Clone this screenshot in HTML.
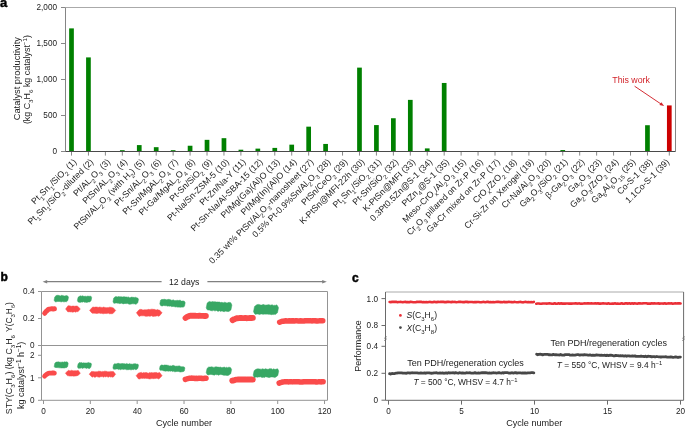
<!DOCTYPE html>
<html><head><meta charset="utf-8"><style>
html,body{margin:0;padding:0;background:#fff;width:685px;height:428px;overflow:hidden}
svg{display:block;will-change:transform}
text{font-family:"Liberation Sans", sans-serif}
</style></head><body>
<svg width="685" height="428" viewBox="0 0 685 428" font-family='"Liberation Sans", sans-serif'>
<rect width="685" height="428" fill="#fff"/>
<text x="0" y="7.2" font-size="13" font-weight="bold" fill="#000" stroke="#000" stroke-width="0.45">a</text>
<path d="M61 151.50H65.5" stroke="#888" stroke-width="1"/>
<text x="57" y="154.40" font-size="8.2" text-anchor="end" fill="#222222">0</text>
<path d="M61 115.50H65.5" stroke="#888" stroke-width="1"/>
<text x="57" y="118.40" font-size="8.2" text-anchor="end" fill="#222222">500</text>
<path d="M61 79.50H65.5" stroke="#888" stroke-width="1"/>
<text x="57" y="82.40" font-size="8.2" text-anchor="end" fill="#222222">1,000</text>
<path d="M61 43.50H65.5" stroke="#888" stroke-width="1"/>
<text x="57" y="46.40" font-size="8.2" text-anchor="end" fill="#222222">1,500</text>
<path d="M61 7.50H65.5" stroke="#888" stroke-width="1"/>
<text x="57" y="10.40" font-size="8.2" text-anchor="end" fill="#222222">2,000</text>
<text transform="translate(20.0 78.7) rotate(-90)" font-size="9.3" text-anchor="middle" fill="#222222">Catalyst productivity</text>
<text transform="translate(29.6 79.6) rotate(-90)" font-size="8.9" text-anchor="middle" fill="#222222">(kg C<tspan baseline-shift="-2.85" font-size="6.23">3</tspan>H<tspan baseline-shift="-2.85" font-size="6.23">6</tspan> kg catalyst<tspan baseline-shift="3.38" font-size="6.23">−1</tspan>)</text>
<rect x="69.15" y="28.38" width="4.7" height="123.12" fill="#008000"/>
<path d="M71.50 151.5V155.6" stroke="#888" stroke-width="1"/>
<text transform="translate(77.00 162.5) rotate(-45)" font-size="8.8" text-anchor="end" fill="#222222">Pt<tspan baseline-shift="-2.82" font-size="6.16">1</tspan>Sn<tspan baseline-shift="-2.82" font-size="6.16">1</tspan>/SiO<tspan baseline-shift="-2.82" font-size="6.16">2</tspan> (1)</text>
<rect x="86.09" y="57.40" width="4.7" height="94.10" fill="#008000"/>
<path d="M88.44 151.5V155.6" stroke="#888" stroke-width="1"/>
<text transform="translate(93.94 162.5) rotate(-45)" font-size="8.8" text-anchor="end" fill="#222222">Pt<tspan baseline-shift="-2.82" font-size="6.16">1</tspan>Sn<tspan baseline-shift="-2.82" font-size="6.16">1</tspan>/SiO<tspan baseline-shift="-2.82" font-size="6.16">2</tspan>-diluted (2)</text>
<rect x="103.03" y="151.14" width="4.7" height="0.36" fill="#008000"/>
<path d="M105.38 151.5V155.6" stroke="#888" stroke-width="1"/>
<text transform="translate(110.88 162.5) rotate(-45)" font-size="8.8" text-anchor="end" fill="#222222">Pt/AL<tspan baseline-shift="-2.82" font-size="6.16">2</tspan>O<tspan baseline-shift="-2.82" font-size="6.16">3</tspan> (3)</text>
<rect x="119.97" y="150.20" width="4.7" height="1.30" fill="#008000"/>
<path d="M122.32 151.5V155.6" stroke="#888" stroke-width="1"/>
<text transform="translate(127.82 162.5) rotate(-45)" font-size="8.8" text-anchor="end" fill="#222222">PtSn/AL<tspan baseline-shift="-2.82" font-size="6.16">2</tspan>O<tspan baseline-shift="-2.82" font-size="6.16">3</tspan> (4)</text>
<rect x="136.91" y="145.09" width="4.7" height="6.41" fill="#008000"/>
<path d="M139.26 151.5V155.6" stroke="#888" stroke-width="1"/>
<text transform="translate(144.76 162.5) rotate(-45)" font-size="8.8" text-anchor="end" fill="#222222">PtSn/AL<tspan baseline-shift="-2.82" font-size="6.16">2</tspan>O<tspan baseline-shift="-2.82" font-size="6.16">3</tspan> (with H<tspan baseline-shift="-2.82" font-size="6.16">2</tspan>) (5)</text>
<rect x="153.85" y="147.18" width="4.7" height="4.32" fill="#008000"/>
<path d="M156.20 151.5V155.6" stroke="#888" stroke-width="1"/>
<text transform="translate(161.70 162.5) rotate(-45)" font-size="8.8" text-anchor="end" fill="#222222">Pt-Sn/AL<tspan baseline-shift="-2.82" font-size="6.16">2</tspan>O<tspan baseline-shift="-2.82" font-size="6.16">3</tspan> (6)</text>
<rect x="170.79" y="150.20" width="4.7" height="1.30" fill="#008000"/>
<path d="M173.14 151.5V155.6" stroke="#888" stroke-width="1"/>
<text transform="translate(178.64 162.5) rotate(-45)" font-size="8.8" text-anchor="end" fill="#222222">Pt-Sn/MgAL<tspan baseline-shift="-2.82" font-size="6.16">2</tspan>O<tspan baseline-shift="-2.82" font-size="6.16">4</tspan> (7)</text>
<rect x="187.73" y="145.74" width="4.7" height="5.76" fill="#008000"/>
<path d="M190.08 151.5V155.6" stroke="#888" stroke-width="1"/>
<text transform="translate(195.58 162.5) rotate(-45)" font-size="8.8" text-anchor="end" fill="#222222">Pt-Ga/MgAL<tspan baseline-shift="-2.82" font-size="6.16">2</tspan>O<tspan baseline-shift="-2.82" font-size="6.16">4</tspan> (8)</text>
<rect x="204.67" y="139.84" width="4.7" height="11.66" fill="#008000"/>
<path d="M207.02 151.5V155.6" stroke="#888" stroke-width="1"/>
<text transform="translate(212.52 162.5) rotate(-45)" font-size="8.8" text-anchor="end" fill="#222222">Pt-Sn/SiO<tspan baseline-shift="-2.82" font-size="6.16">2</tspan> (9)</text>
<rect x="221.61" y="138.18" width="4.7" height="13.32" fill="#008000"/>
<path d="M223.96 151.5V155.6" stroke="#888" stroke-width="1"/>
<text transform="translate(229.46 162.5) rotate(-45)" font-size="8.8" text-anchor="end" fill="#222222">Pt-Na/Sn-ZSM-5 (10)</text>
<rect x="238.55" y="149.70" width="4.7" height="1.80" fill="#008000"/>
<path d="M240.90 151.5V155.6" stroke="#888" stroke-width="1"/>
<text transform="translate(246.40 162.5) rotate(-45)" font-size="8.8" text-anchor="end" fill="#222222">Pt-Zn/Na-Y (11)</text>
<rect x="255.49" y="148.62" width="4.7" height="2.88" fill="#008000"/>
<path d="M257.84 151.5V155.6" stroke="#888" stroke-width="1"/>
<text transform="translate(263.34 162.5) rotate(-45)" font-size="8.8" text-anchor="end" fill="#222222">Pt-Sn-Na/Al-SBA-15 (12)</text>
<rect x="272.43" y="147.90" width="4.7" height="3.60" fill="#008000"/>
<path d="M274.78 151.5V155.6" stroke="#888" stroke-width="1"/>
<text transform="translate(280.28 162.5) rotate(-45)" font-size="8.8" text-anchor="end" fill="#222222">Pt/Mg(Ga)(Al)O (13)</text>
<rect x="289.37" y="144.66" width="4.7" height="6.84" fill="#008000"/>
<path d="M291.72 151.5V155.6" stroke="#888" stroke-width="1"/>
<text transform="translate(297.22 162.5) rotate(-45)" font-size="8.8" text-anchor="end" fill="#222222">Pt/Mg(In)(Al)O (14)</text>
<rect x="306.31" y="126.66" width="4.7" height="24.84" fill="#008000"/>
<path d="M308.66 151.5V155.6" stroke="#888" stroke-width="1"/>
<text transform="translate(314.16 162.5) rotate(-45)" font-size="8.8" text-anchor="end" fill="#222222">0.35 wt% PtSn/Al<tspan baseline-shift="-2.82" font-size="6.16">2</tspan>O<tspan baseline-shift="-2.82" font-size="6.16">3</tspan>-nanosheet (27)</text>
<rect x="323.25" y="143.94" width="4.7" height="7.56" fill="#008000"/>
<path d="M325.60 151.5V155.6" stroke="#888" stroke-width="1"/>
<text transform="translate(331.10 162.5) rotate(-45)" font-size="8.8" text-anchor="end" fill="#222222">0.5% Pt-0.9%Sn/Al<tspan baseline-shift="-2.82" font-size="6.16">2</tspan>O<tspan baseline-shift="-2.82" font-size="6.16">3</tspan> (28)</text>
<rect x="340.19" y="151.00" width="4.7" height="0.50" fill="#008000"/>
<path d="M342.54 151.5V155.6" stroke="#888" stroke-width="1"/>
<text transform="translate(348.04 162.5) rotate(-45)" font-size="8.8" text-anchor="end" fill="#222222">PtSn/CeO<tspan baseline-shift="-2.82" font-size="6.16">2</tspan> (29)</text>
<rect x="357.13" y="67.62" width="4.7" height="83.88" fill="#008000"/>
<path d="M359.48 151.5V155.6" stroke="#888" stroke-width="1"/>
<text transform="translate(364.98 162.5) rotate(-45)" font-size="8.8" text-anchor="end" fill="#222222">K-PtSn@MFI-22h (30)</text>
<rect x="374.07" y="125.08" width="4.7" height="26.42" fill="#008000"/>
<path d="M376.42 151.5V155.6" stroke="#888" stroke-width="1"/>
<text transform="translate(381.92 162.5) rotate(-45)" font-size="8.8" text-anchor="end" fill="#222222">Pt<tspan baseline-shift="-2.82" font-size="6.16">1</tspan>Sn<tspan baseline-shift="-2.82" font-size="6.16">1</tspan>/SiO<tspan baseline-shift="-2.82" font-size="6.16">2</tspan> (31)</text>
<rect x="391.01" y="118.24" width="4.7" height="33.26" fill="#008000"/>
<path d="M393.36 151.5V155.6" stroke="#888" stroke-width="1"/>
<text transform="translate(398.86 162.5) rotate(-45)" font-size="8.8" text-anchor="end" fill="#222222">Pt-Sn/SiO<tspan baseline-shift="-2.82" font-size="6.16">2</tspan> (32)</text>
<rect x="407.95" y="99.88" width="4.7" height="51.62" fill="#008000"/>
<path d="M410.30 151.5V155.6" stroke="#888" stroke-width="1"/>
<text transform="translate(415.80 162.5) rotate(-45)" font-size="8.8" text-anchor="end" fill="#222222">K-PtSn@MFI (33)</text>
<rect x="424.89" y="148.40" width="4.7" height="3.10" fill="#008000"/>
<path d="M427.24 151.5V155.6" stroke="#888" stroke-width="1"/>
<text transform="translate(432.74 162.5) rotate(-45)" font-size="8.8" text-anchor="end" fill="#222222">0.3Pt0.5Zn@S-1 (34)</text>
<rect x="441.83" y="82.96" width="4.7" height="68.54" fill="#008000"/>
<path d="M444.18 151.5V155.6" stroke="#888" stroke-width="1"/>
<text transform="translate(449.68 162.5) rotate(-45)" font-size="8.8" text-anchor="end" fill="#222222">PtZn<tspan baseline-shift="-2.82" font-size="6.16">4</tspan>@S-1 (35)</text>
<path d="M461.12 151.5V155.6" stroke="#888" stroke-width="1"/>
<text transform="translate(466.62 162.5) rotate(-45)" font-size="8.8" text-anchor="end" fill="#222222">Meso-CrO<tspan baseline-shift="-2.82" font-size="6.16">x</tspan>/Al<tspan baseline-shift="-2.82" font-size="6.16">2</tspan>O<tspan baseline-shift="-2.82" font-size="6.16">3</tspan> (15)</text>
<path d="M478.06 151.5V155.6" stroke="#888" stroke-width="1"/>
<text transform="translate(483.56 162.5) rotate(-45)" font-size="8.8" text-anchor="end" fill="#222222">Cr<tspan baseline-shift="-2.82" font-size="6.16">2</tspan>O<tspan baseline-shift="-2.82" font-size="6.16">3</tspan> pillared on Zr-P (16)</text>
<path d="M495.00 151.5V155.6" stroke="#888" stroke-width="1"/>
<text transform="translate(500.50 162.5) rotate(-45)" font-size="8.8" text-anchor="end" fill="#222222">Ga-Cr mixed on Zr-P (17)</text>
<path d="M511.94 151.5V155.6" stroke="#888" stroke-width="1"/>
<text transform="translate(517.44 162.5) rotate(-45)" font-size="8.8" text-anchor="end" fill="#222222">CrO<tspan baseline-shift="-2.82" font-size="6.16">x</tspan>/ZrO<tspan baseline-shift="-2.82" font-size="6.16">2</tspan> (18)</text>
<path d="M528.88 151.5V155.6" stroke="#888" stroke-width="1"/>
<text transform="translate(534.38 162.5) rotate(-45)" font-size="8.8" text-anchor="end" fill="#222222">Cr-Si-Zr on Xerogel (19)</text>
<path d="M545.82 151.5V155.6" stroke="#888" stroke-width="1"/>
<text transform="translate(551.32 162.5) rotate(-45)" font-size="8.8" text-anchor="end" fill="#222222">Cr-Na/Al<tspan baseline-shift="-2.82" font-size="6.16">2</tspan>O<tspan baseline-shift="-2.82" font-size="6.16">3</tspan> (20)</text>
<rect x="560.41" y="150.06" width="4.7" height="1.44" fill="#008000"/>
<path d="M562.76 151.5V155.6" stroke="#888" stroke-width="1"/>
<text transform="translate(568.26 162.5) rotate(-45)" font-size="8.8" text-anchor="end" fill="#222222">Ga<tspan baseline-shift="-2.82" font-size="6.16">2</tspan>O<tspan baseline-shift="-2.82" font-size="6.16">3</tspan>/SiO<tspan baseline-shift="-2.82" font-size="6.16">2</tspan> (21)</text>
<path d="M579.70 151.5V155.6" stroke="#888" stroke-width="1"/>
<text transform="translate(585.20 162.5) rotate(-45)" font-size="8.8" text-anchor="end" fill="#222222">β-Ga<tspan baseline-shift="-2.82" font-size="6.16">2</tspan>O<tspan baseline-shift="-2.82" font-size="6.16">3</tspan> (22)</text>
<path d="M596.64 151.5V155.6" stroke="#888" stroke-width="1"/>
<text transform="translate(602.14 162.5) rotate(-45)" font-size="8.8" text-anchor="end" fill="#222222">Ga<tspan baseline-shift="-2.82" font-size="6.16">2</tspan>O<tspan baseline-shift="-2.82" font-size="6.16">3</tspan> (23)</text>
<path d="M613.58 151.5V155.6" stroke="#888" stroke-width="1"/>
<text transform="translate(619.08 162.5) rotate(-45)" font-size="8.8" text-anchor="end" fill="#222222">Ga<tspan baseline-shift="-2.82" font-size="6.16">2</tspan>O<tspan baseline-shift="-2.82" font-size="6.16">3</tspan>/ZrO<tspan baseline-shift="-2.82" font-size="6.16">2</tspan> (24)</text>
<path d="M630.52 151.5V155.6" stroke="#888" stroke-width="1"/>
<text transform="translate(636.02 162.5) rotate(-45)" font-size="8.8" text-anchor="end" fill="#222222">Ga<tspan baseline-shift="-2.82" font-size="6.16">6</tspan>Al<tspan baseline-shift="-2.82" font-size="6.16">6</tspan>O<tspan baseline-shift="-2.82" font-size="6.16">15</tspan> (25)</text>
<rect x="645.11" y="125.22" width="4.7" height="26.28" fill="#008000"/>
<path d="M647.46 151.5V155.6" stroke="#888" stroke-width="1"/>
<text transform="translate(652.96 162.5) rotate(-45)" font-size="8.8" text-anchor="end" fill="#222222">Co-S-1 (38)</text>
<rect x="666.95" y="105.42" width="4.7" height="46.08" fill="#cc0000"/>
<path d="M669.30 151.5V155.6" stroke="#888" stroke-width="1"/>
<text transform="translate(669.90 162.5) rotate(-45)" font-size="8.8" text-anchor="end" fill="#222222">1.1Co-S-1 (39)</text>
<path d="M65.5 7.5H675.5" stroke="#aaa" stroke-width="1"/>
<path d="M65.5 7.5V151.5M675.5 7.5V151.5" stroke="#858585" stroke-width="1"/>
<path d="M65.5 151.5H675.5" stroke="#4a4a4a" stroke-width="1"/>
<text x="612.3" y="82.8" font-size="8.8" fill="#d2232a">This work</text>
<path d="M634.6 86.2L661.0 104.0" stroke="#d2232a" stroke-width="0.95"/>
<path d="M664.1 106.1L659.4 105.0L661.3 102.2Z" fill="#d2232a"/>
<text x="0.5" y="280.6" font-size="12" font-weight="bold" fill="#000" stroke="#000" stroke-width="0.45">b</text>
<path d="M41.5 291.5H327.5V400.3H41.5Z" fill="none" stroke="#949494" stroke-width="1"/>
<path d="M41.5 345.5H327.5" stroke="#949494" stroke-width="1"/>
<path d="M46 281.6H161.6M207.4 281.6H323" stroke="#808080" stroke-width="1.15"/>
<path d="M42.6 281.7L47.2 279.9V283.5Z" fill="#808080"/>
<path d="M326.8 281.7L322.2 279.9V283.5Z" fill="#808080"/>
<text x="184.2" y="284.6" font-size="8.7" text-anchor="middle" fill="#222222">12 days</text>
<path d="M38 291.50H41.5" stroke="#949494" stroke-width="1"/>
<text x="34.5" y="294.40" font-size="8.2" text-anchor="end" fill="#222222">0.4</text>
<path d="M38 318.50H41.5" stroke="#949494" stroke-width="1"/>
<text x="34.5" y="321.40" font-size="8.2" text-anchor="end" fill="#222222">0.2</text>
<path d="M38 345.50H41.5" stroke="#949494" stroke-width="1"/>
<text x="34.5" y="348.40" font-size="8.2" text-anchor="end" fill="#222222">0</text>
<path d="M38 400.30H41.5" stroke="#949494" stroke-width="1"/>
<text x="34.5" y="403.20" font-size="8.2" text-anchor="end" fill="#222222">0</text>
<path d="M38 377.80H41.5" stroke="#949494" stroke-width="1"/>
<text x="34.5" y="380.70" font-size="8.2" text-anchor="end" fill="#222222">1</text>
<path d="M38 355.30H41.5" stroke="#949494" stroke-width="1"/>
<text x="34.5" y="358.20" font-size="8.2" text-anchor="end" fill="#222222">2</text>
<path d="M43.50 400.3V404" stroke="#949494" stroke-width="1"/>
<text x="43.50" y="413.6" font-size="8.2" text-anchor="middle" fill="#222222">0</text>
<path d="M90.34 400.3V404" stroke="#949494" stroke-width="1"/>
<text x="90.34" y="413.6" font-size="8.2" text-anchor="middle" fill="#222222">20</text>
<path d="M137.18 400.3V404" stroke="#949494" stroke-width="1"/>
<text x="137.18" y="413.6" font-size="8.2" text-anchor="middle" fill="#222222">40</text>
<path d="M184.02 400.3V404" stroke="#949494" stroke-width="1"/>
<text x="184.02" y="413.6" font-size="8.2" text-anchor="middle" fill="#222222">60</text>
<path d="M230.86 400.3V404" stroke="#949494" stroke-width="1"/>
<text x="230.86" y="413.6" font-size="8.2" text-anchor="middle" fill="#222222">80</text>
<path d="M277.70 400.3V404" stroke="#949494" stroke-width="1"/>
<text x="277.70" y="413.6" font-size="8.2" text-anchor="middle" fill="#222222">100</text>
<path d="M324.54 400.3V404" stroke="#949494" stroke-width="1"/>
<text x="324.54" y="413.6" font-size="8.2" text-anchor="middle" fill="#222222">120</text>
<text x="184" y="426.4" font-size="9.1" text-anchor="middle" fill="#222222">Cycle number</text>
<text transform="translate(12.3 317) rotate(-90)" font-size="8.4" text-anchor="middle" fill="#222222">Y(C<tspan baseline-shift="-2.69" font-size="5.88">3</tspan>H<tspan baseline-shift="-2.69" font-size="5.88">6</tspan>)</text>
<text transform="translate(12.2 374.6) rotate(-90)" font-size="8.8" text-anchor="middle" fill="#222222">STY(C<tspan baseline-shift="-2.82" font-size="6.16">3</tspan>H<tspan baseline-shift="-2.82" font-size="6.16">6</tspan>) (kg C<tspan baseline-shift="-2.82" font-size="6.16">3</tspan>H<tspan baseline-shift="-2.82" font-size="6.16">6</tspan></text>
<text transform="translate(23.6 375.4) rotate(-90)" font-size="9.0" text-anchor="middle" fill="#222222">kg catalyst<tspan baseline-shift="3.42" font-size="6.30">−1</tspan> h<tspan baseline-shift="3.42" font-size="6.30">−1</tspan>)</text>
<polyline points="44.68,313.25 45.90,311.62 47.12,310.54 48.33,309.49 49.55,309.11 50.77,308.90 51.98,308.79 53.20,308.91 54.42,308.76" fill="none" stroke="#fa4b4b" stroke-width="4.968000000000001" stroke-linecap="round" stroke-linejoin="round"/>
<path d="M56.14 295.60L57.20 295.31L58.26 295.32L59.31 295.59L60.37 295.91L61.43 295.35L62.49 295.43L63.55 295.75L64.61 296.01L65.66 295.71L66.72 295.57L67.78 296.03L68.50 297.20L67.84 300.50L66.46 301.79L65.40 301.65L64.34 301.86L63.29 301.82L62.23 301.49L61.17 302.00L60.11 301.60L59.05 301.44L57.99 301.47L56.94 301.58L55.88 302.04L54.82 301.39L54.10 300.20L54.76 296.90Z" fill="#37a764" stroke="#37a764" stroke-width="0.5" stroke-linejoin="round"/>
<path d="M65.60 309.00L67.95 305.80L69.06 305.80L70.17 305.91L71.28 306.29L72.39 306.09L73.51 306.00L74.62 306.22L75.73 306.11L76.84 305.99L77.95 306.39L80.30 309.00L77.95 311.78L76.84 311.54L75.73 312.23L74.62 311.68L73.51 312.03L72.39 312.15L71.28 311.87L70.17 311.91L69.06 311.65L67.95 312.01Z" fill="#fa4b4b" stroke="#fa4b4b" stroke-width="0.5" stroke-linejoin="round"/>
<path d="M79.37 296.36L80.43 295.87L81.49 296.14L82.54 295.78L83.60 296.28L84.66 296.36L85.72 296.21L86.77 296.45L87.83 296.00L88.89 296.31L89.95 296.23L91.00 296.21L91.70 297.65L91.06 300.84L89.73 301.96L88.67 301.88L87.61 302.31L86.56 302.44L85.50 302.17L84.44 302.21L83.38 301.70L82.33 302.18L81.27 302.03L80.21 302.41L79.15 302.32L78.10 302.01L77.40 300.55L78.04 297.36Z" fill="#37a764" stroke="#37a764" stroke-width="0.5" stroke-linejoin="round"/>
<path d="M89.60 310.40L92.12 307.48L93.12 306.97L94.13 307.32L95.13 307.08L96.13 307.04L97.13 307.00L98.14 307.56L99.14 307.05L100.14 307.15L101.15 307.26L102.15 307.65L103.15 307.01L104.15 307.31L105.16 307.39L106.16 307.66L107.16 307.61L108.17 307.64L109.17 307.17L110.17 307.28L111.17 307.24L112.18 307.66L113.18 307.72L115.70 310.40L113.18 313.36L112.18 313.69L111.17 313.75L110.17 313.67L109.17 313.77L108.17 313.09L107.16 313.59L106.16 313.54L105.16 313.46L104.15 313.60L103.15 313.81L102.15 313.50L101.15 313.35L100.14 313.39L99.14 313.05L98.14 313.26L97.13 313.52L96.13 313.44L95.13 313.24L94.13 313.24L93.12 313.19L92.12 313.17Z" fill="#fa4b4b" stroke="#fa4b4b" stroke-width="0.5" stroke-linejoin="round"/>
<path d="M115.18 296.75L116.20 296.55L117.23 297.01L118.25 296.59L119.28 296.63L120.30 296.77L121.33 296.77L122.35 296.95L123.38 296.76L124.40 296.75L125.43 296.91L126.45 296.91L127.48 297.15L128.50 296.92L129.53 297.63L130.56 297.46L131.58 297.12L132.61 297.24L133.63 297.36L134.66 297.41L135.68 297.25L136.71 297.87L137.73 298.02L138.50 299.30L137.80 302.82L136.32 304.10L135.30 304.25L134.27 303.73L133.25 303.86L132.22 303.74L131.20 304.05L130.17 304.15L129.15 304.20L128.12 303.81L127.10 303.37L126.07 303.75L125.05 303.39L124.02 303.66L123.00 303.96L121.97 303.19L120.94 303.26L119.92 303.76L118.89 303.27L117.87 303.30L116.84 303.07L115.82 303.02L114.79 303.30L113.77 303.25L113.00 301.60L113.70 298.08Z" fill="#37a764" stroke="#37a764" stroke-width="0.5" stroke-linejoin="round"/>
<path d="M136.40 312.80L139.09 309.77L140.10 309.41L141.12 309.33L142.14 309.80L143.15 309.94L144.17 309.83L145.19 309.79L146.20 309.80L147.22 309.74L148.23 309.33L149.25 309.56L150.27 309.43L151.28 309.17L152.30 309.17L153.31 309.37L154.33 309.36L155.35 309.70L156.36 309.92L157.38 309.51L158.40 309.90L159.41 309.94L162.10 312.80L159.41 315.92L158.40 316.28L157.38 315.79L156.36 316.03L155.35 316.25L154.33 316.28L153.31 316.38L152.30 316.18L151.28 315.72L150.27 316.29L149.25 316.17L148.23 316.03L147.22 316.32L146.20 316.37L145.19 316.15L144.17 315.81L143.15 315.81L142.14 315.83L141.12 315.83L140.10 315.94L139.09 316.41Z" fill="#fa4b4b" stroke="#fa4b4b" stroke-width="0.5" stroke-linejoin="round"/>
<path d="M161.98 299.37L163.00 299.59L164.02 299.22L165.04 299.30L166.06 299.82L167.08 299.73L168.10 299.37L169.12 299.42L170.14 299.53L171.16 300.21L172.18 300.22L173.20 299.78L174.22 300.40L175.25 300.61L176.27 300.44L177.29 300.28L178.31 300.52L179.33 300.27L180.35 300.26L181.37 301.11L182.39 300.94L183.41 300.92L184.43 301.33L185.20 302.70L184.50 306.22L183.02 307.32L182.00 306.90L180.98 307.22L179.96 307.14L178.94 307.03L177.92 307.28L176.90 306.80L175.88 307.10L174.86 306.76L173.84 306.58L172.82 306.41L171.80 306.77L170.78 306.06L169.75 306.21L168.73 306.00L167.71 306.17L166.69 305.81L165.67 305.77L164.65 305.65L163.63 305.54L162.61 305.94L161.59 305.90L160.57 305.46L159.80 303.80L160.50 300.28Z" fill="#37a764" stroke="#37a764" stroke-width="0.5" stroke-linejoin="round"/>
<polyline points="185.54,318.00 186.81,317.03 188.08,316.57 189.35,315.91 190.62,315.75 191.89,315.79 193.16,315.77 194.43,315.72 195.70,315.81 196.97,315.84 198.24,315.94 199.51,315.76 200.78,315.92 202.05,315.85 203.32,315.88 204.59,316.06 205.86,316.00" fill="none" stroke="#fa4b4b" stroke-width="5.888000000000001" stroke-linecap="round" stroke-linejoin="round"/>
<path d="M209.19 301.49L210.22 301.71L211.25 301.89L212.29 301.58L213.32 301.78L214.35 301.76L215.38 301.83L216.41 302.04L217.44 301.91L218.47 302.04L219.50 302.06L220.53 302.50L221.56 302.37L222.60 302.57L223.63 302.69L224.66 302.21L225.69 302.51L226.72 302.88L227.75 302.86L228.78 302.37L229.81 302.42L230.84 302.74L231.90 305.10L230.93 309.94L228.91 311.44L227.88 311.51L226.85 311.38L225.81 311.10L224.78 311.57L223.75 311.63L222.72 311.17L221.69 311.03L220.66 311.41L219.63 310.76L218.60 311.30L217.57 311.16L216.54 310.51L215.50 310.86L214.47 310.84L213.44 310.32L212.41 310.85L211.38 310.70L210.35 310.54L209.32 310.00L208.29 310.07L207.26 309.87L206.20 307.90L207.17 303.06Z" fill="#37a764" stroke="#37a764" stroke-width="0.5" stroke-linejoin="round"/>
<polyline points="232.54,320.11 233.81,319.38 235.08,318.91 236.35,318.29 237.62,318.21 238.89,318.12 240.16,317.98 241.43,318.06 242.70,318.14 243.97,318.09 245.24,317.94 246.51,318.21 247.78,318.14 249.05,318.18 250.32,317.91 251.59,317.94 252.86,317.86" fill="none" stroke="#fa4b4b" stroke-width="5.888000000000001" stroke-linecap="round" stroke-linejoin="round"/>
<path d="M256.70 304.86L257.73 304.48L258.76 304.40L259.80 304.66L260.83 305.08L261.87 305.04L262.90 304.62L263.93 304.56L264.97 305.21L266.00 304.96L267.03 305.09L268.07 304.63L269.10 304.63L270.14 305.17L271.17 304.98L272.20 304.73L273.24 305.45L274.27 305.24L275.30 305.40L276.34 304.86L277.37 305.50L278.50 307.65L277.47 312.82L275.30 314.54L274.27 314.37L273.24 314.60L272.20 314.41L271.17 314.75L270.13 314.36L269.10 314.34L268.07 314.22L267.03 314.07L266.00 314.13L264.97 314.06L263.93 314.13L262.90 314.33L261.86 313.99L260.83 314.07L259.80 314.57L258.76 314.24L257.73 314.04L256.70 314.10L255.66 314.40L254.63 313.73L253.50 311.65L254.53 306.48Z" fill="#37a764" stroke="#37a764" stroke-width="0.5" stroke-linejoin="round"/>
<polyline points="279.66,322.26 280.89,321.77 282.12,321.27 283.35,321.18 284.58,320.95 285.81,320.79 287.05,320.88 288.28,321.01 289.51,320.76 290.74,320.97 291.97,320.85 293.20,320.87 294.43,320.97 295.66,320.83 296.89,320.86 298.12,320.91 299.35,321.00 300.58,320.80 301.82,320.95 303.05,320.91 304.28,320.88 305.51,320.81 306.74,320.79 307.97,320.70 309.20,320.72 310.43,320.70 311.66,320.90 312.89,320.75 314.12,320.72 315.35,320.69 316.59,320.92 317.82,320.92 319.05,320.86 320.28,320.74 321.51,320.73 322.74,320.74" fill="none" stroke="#fa4b4b" stroke-width="5.5200000000000005" stroke-linecap="round" stroke-linejoin="round"/>
<polyline points="44.59,376.19 45.82,374.92 47.05,374.10 48.27,373.41 49.50,373.24 50.73,373.14 51.95,373.01 53.18,372.92 54.41,373.14" fill="none" stroke="#fa4b4b" stroke-width="4.784000000000001" stroke-linecap="round" stroke-linejoin="round"/>
<path d="M56.07 362.05L57.11 362.09L58.16 361.80L59.20 362.11L60.24 362.18L61.28 362.20L62.33 361.96L63.37 362.20L64.41 361.80L65.45 362.01L66.50 361.87L67.54 362.12L68.20 363.62L67.59 366.65L66.33 367.66L65.29 367.71L64.24 368.10L63.20 367.97L62.16 367.93L61.12 368.00L60.07 367.82L59.03 367.87L57.99 367.59L56.95 367.64L55.90 367.42L54.86 367.43L54.20 366.38L54.80 363.35Z" fill="#37a764" stroke="#37a764" stroke-width="0.5" stroke-linejoin="round"/>
<path d="M65.40 373.20L67.58 370.94L68.64 370.27L69.69 370.73L70.74 370.66L71.80 370.19L72.85 370.82L73.90 370.86L74.96 370.65L76.01 370.74L77.06 370.80L78.12 370.26L80.30 373.20L78.12 375.47L77.06 375.63L76.01 376.00L74.96 376.00L73.90 376.16L72.85 375.92L71.80 376.11L70.74 376.09L69.69 376.12L68.64 375.85L67.58 375.87Z" fill="#fa4b4b" stroke="#fa4b4b" stroke-width="0.5" stroke-linejoin="round"/>
<path d="M79.30 362.51L80.35 362.69L81.40 362.48L82.46 363.07L83.51 362.85L84.56 362.90L85.61 362.90L86.66 362.94L87.71 362.79L88.76 362.40L89.81 363.04L90.86 363.00L91.50 364.18L90.92 367.09L89.70 368.58L88.65 368.39L87.60 367.96L86.54 368.38L85.49 368.01L84.44 367.86L83.39 368.00L82.34 368.39L81.29 367.85L80.24 368.33L79.19 368.23L78.14 368.20L77.50 366.82L78.08 363.91Z" fill="#37a764" stroke="#37a764" stroke-width="0.5" stroke-linejoin="round"/>
<path d="M89.20 374.20L91.38 371.55L92.39 371.46L93.39 371.53L94.39 371.70L95.39 371.76L96.39 371.64L97.39 371.66L98.39 371.21L99.40 371.27L100.40 371.35L101.40 371.74L102.40 371.39L103.40 371.60L104.40 371.16L105.40 371.20L106.41 371.37L107.41 371.69L108.41 371.70L109.41 371.69L110.41 371.38L111.41 371.56L112.41 371.52L113.42 371.52L115.60 374.20L113.42 377.01L112.41 377.16L111.41 376.86L110.41 377.11L109.41 376.56L108.41 377.21L107.41 376.87L106.41 376.56L105.40 376.92L104.40 376.62L103.40 377.21L102.40 376.62L101.40 376.66L100.40 376.81L99.40 377.22L98.39 377.11L97.39 376.82L96.39 376.46L95.39 377.20L94.39 377.23L93.39 376.61L92.39 377.16L91.38 376.54Z" fill="#fa4b4b" stroke="#fa4b4b" stroke-width="0.5" stroke-linejoin="round"/>
<path d="M114.77 363.50L115.77 364.04L116.78 363.72L117.78 363.36L118.78 363.35L119.79 363.75L120.79 363.72L121.79 363.61L122.79 363.49L123.80 363.66L124.80 363.65L125.80 364.07L126.81 363.41L127.81 364.02L128.81 364.10L129.82 363.53L130.82 364.18L131.82 364.02L132.82 364.18L133.83 363.70L134.83 363.77L135.83 363.79L136.84 364.29L137.84 363.97L138.50 365.32L137.90 368.35L136.63 369.45L135.63 369.66L134.62 369.11L133.62 369.64L132.62 369.49L131.61 369.80L130.61 369.77L129.61 369.54L128.61 369.67L127.60 369.72L126.60 369.77L125.60 369.30L124.59 369.14L123.59 369.39L122.59 369.19L121.58 369.17L120.58 369.71L119.58 369.18L118.58 369.61L117.57 369.02L116.57 368.97L115.57 369.14L114.56 369.26L113.56 369.19L112.90 367.88L113.50 364.85Z" fill="#37a764" stroke="#37a764" stroke-width="0.5" stroke-linejoin="round"/>
<path d="M136.10 375.70L138.54 372.95L139.54 372.87L140.55 372.58L141.55 372.39L142.56 373.09L143.57 372.45L144.57 372.73L145.58 372.62L146.58 372.59L147.59 372.94L148.60 373.13L149.60 372.56L150.61 372.87L151.62 372.59L152.62 372.80L153.63 372.67L154.63 372.48L155.64 372.48L156.65 372.52L157.65 373.07L158.66 372.75L159.66 372.53L162.10 375.70L159.66 378.35L158.66 379.02L157.65 378.47L156.65 378.30L155.64 378.52L154.63 378.55L153.63 378.67L152.62 378.58L151.62 378.58L150.61 378.85L149.60 378.96L148.60 378.71L147.59 378.46L146.58 378.44L145.58 378.32L144.57 378.52L143.57 378.32L142.56 378.40L141.55 378.36L140.55 378.61L139.54 379.05L138.54 378.98Z" fill="#fa4b4b" stroke="#fa4b4b" stroke-width="0.5" stroke-linejoin="round"/>
<path d="M161.37 364.94L162.41 365.11L163.45 365.37L164.49 364.93L165.53 365.04L166.57 365.10L167.61 365.29L168.65 365.40L169.69 365.89L170.73 365.87L171.77 365.97L172.81 365.36L173.84 365.44L174.88 366.06L175.92 366.28L176.96 366.02L178.00 366.18L179.04 365.79L180.08 366.17L181.12 366.67L182.16 366.67L183.20 366.76L184.24 366.93L184.90 368.02L184.29 371.05L183.03 371.72L181.99 371.68L180.95 372.08L179.91 371.96L178.87 371.57L177.83 371.40L176.79 371.47L175.75 371.67L174.71 371.81L173.67 371.19L172.63 371.56L171.59 370.89L170.56 371.22L169.52 371.08L168.48 371.25L167.44 371.08L166.40 371.07L165.36 371.17L164.32 370.89L163.28 370.69L162.24 370.32L161.20 370.21L160.16 370.25L159.50 368.98L160.10 365.95Z" fill="#37a764" stroke="#37a764" stroke-width="0.5" stroke-linejoin="round"/>
<polyline points="185.36,379.41 186.58,379.00 187.79,378.61 189.01,378.34 190.23,378.32 191.44,378.11 192.66,378.21 193.88,378.27 195.09,378.43 196.31,378.35 197.52,378.43 198.74,378.32 199.96,378.26 201.17,378.28 202.39,378.50 203.61,378.44 204.82,378.33 206.04,378.26" fill="none" stroke="#fa4b4b" stroke-width="5.5200000000000005" stroke-linecap="round" stroke-linejoin="round"/>
<path d="M208.78 366.92L209.83 367.09L210.87 366.91L211.91 366.81L212.96 367.17L214.00 367.41L215.04 366.88L216.09 366.75L217.13 367.02L218.17 367.12L219.21 367.35L220.26 367.00L221.30 367.50L222.34 367.49L223.39 367.33L224.43 367.12L225.47 367.76L226.52 367.26L227.56 367.69L228.60 367.25L229.64 367.27L230.69 367.73L231.60 369.50L230.76 373.68L229.02 375.04L227.97 375.50L226.93 375.52L225.89 375.28L224.84 375.37L223.80 375.35L222.76 374.92L221.71 374.63L220.67 374.59L219.63 374.63L218.59 375.27L217.54 374.63L216.50 374.75L215.46 374.52L214.41 375.14L213.37 374.88L212.33 374.65L211.28 374.47L210.24 374.41L209.20 374.63L208.16 374.97L207.11 374.41L206.20 372.60L207.04 368.42Z" fill="#37a764" stroke="#37a764" stroke-width="0.5" stroke-linejoin="round"/>
<polyline points="232.24,380.71 233.45,380.49 234.66,380.09 235.86,379.63 237.07,379.67 238.28,379.53 239.48,379.53 240.69,379.51 241.90,379.45 243.10,379.40 244.31,379.48 245.52,379.49 246.72,379.67 247.93,379.41 249.14,379.66 250.34,379.42 251.55,379.46 252.76,379.60" fill="none" stroke="#fa4b4b" stroke-width="5.888000000000001" stroke-linecap="round" stroke-linejoin="round"/>
<path d="M255.92 369.31L256.96 369.00L258.00 368.69L259.04 369.03L260.08 368.95L261.12 369.39L262.15 368.80L263.19 368.94L264.23 369.37L265.27 368.67L266.31 368.98L267.35 369.30L268.39 369.26L269.43 368.68L270.47 368.68L271.51 368.70L272.54 369.39L273.58 368.86L274.62 369.25L275.66 369.37L276.70 368.92L277.74 368.87L278.70 371.10L277.82 375.50L275.98 376.90L274.94 377.49L273.90 377.14L272.86 377.09L271.82 376.95L270.78 377.06L269.75 377.51L268.71 377.52L267.67 377.13L266.63 376.94L265.59 376.77L264.55 377.50L263.51 377.26L262.47 377.48L261.43 377.35L260.39 376.75L259.36 376.97L258.32 377.00L257.28 377.32L256.24 376.96L255.20 377.24L254.16 377.52L253.20 375.10L254.08 370.70Z" fill="#37a764" stroke="#37a764" stroke-width="0.5" stroke-linejoin="round"/>
<polyline points="279.16,383.09 280.38,382.63 281.60,382.32 282.82,382.06 284.05,381.87 285.27,381.75 286.49,381.75 287.71,381.76 288.93,381.88 290.15,381.67 291.38,381.71 292.60,381.88 293.82,381.72 295.04,381.67 296.26,381.66 297.48,381.82 298.71,381.75 299.93,381.94 301.15,381.92 302.37,381.95 303.59,381.73 304.81,381.68 306.04,381.68 307.26,381.80 308.48,381.86 309.70,381.78 310.92,381.72 312.14,381.78 313.37,381.84 314.59,381.85 315.81,381.87 317.03,381.90 318.25,381.85 319.47,381.69 320.70,381.90 321.92,381.74 323.14,381.82" fill="none" stroke="#fa4b4b" stroke-width="5.5200000000000005" stroke-linecap="round" stroke-linejoin="round"/>
<text x="352" y="281.6" font-size="12" font-weight="bold" fill="#000" stroke="#000" stroke-width="0.45">c</text>
<path d="M385.5 292.0H683.6" stroke="#aaa" stroke-width="1"/>
<path d="M683.6 292.0V400.3H385.5V292.0" fill="none" stroke="#6a6a6a" stroke-width="1"/>
<path d="M384.2 338.4L386.8 336.6M384.2 340.6L386.8 338.8" stroke="#6a6a6a" stroke-width="0.8"/>
<path d="M682.3000000000001 338.4L684.9 336.6M682.3000000000001 340.6L684.9 338.8" stroke="#6a6a6a" stroke-width="0.8"/>
<path d="M381.5 298.60H385.5" stroke="#6a6a6a" stroke-width="1"/>
<text x="378" y="301.50" font-size="8.2" text-anchor="end" fill="#222222">1.0</text>
<path d="M381.5 325.50H385.5" stroke="#6a6a6a" stroke-width="1"/>
<text x="378" y="328.40" font-size="8.2" text-anchor="end" fill="#222222">0.8</text>
<path d="M381.5 346.30H385.5" stroke="#6a6a6a" stroke-width="1"/>
<text x="378" y="349.20" font-size="8.2" text-anchor="end" fill="#222222">0.4</text>
<path d="M381.5 373.30H385.5" stroke="#6a6a6a" stroke-width="1"/>
<text x="378" y="376.20" font-size="8.2" text-anchor="end" fill="#222222">0.2</text>
<path d="M381.5 400.20H385.5" stroke="#6a6a6a" stroke-width="1"/>
<text x="378" y="403.10" font-size="8.2" text-anchor="end" fill="#222222">0</text>
<path d="M388.50 400.3V404.6" stroke="#6a6a6a" stroke-width="1"/>
<text x="388.50" y="413.7" font-size="8.2" text-anchor="middle" fill="#222222">0</text>
<path d="M461.50 400.3V404.6" stroke="#6a6a6a" stroke-width="1"/>
<text x="461.50" y="413.7" font-size="8.2" text-anchor="middle" fill="#222222">5</text>
<path d="M534.50 400.3V404.6" stroke="#6a6a6a" stroke-width="1"/>
<text x="534.50" y="413.7" font-size="8.2" text-anchor="middle" fill="#222222">10</text>
<path d="M607.50 400.3V404.6" stroke="#6a6a6a" stroke-width="1"/>
<text x="607.50" y="413.7" font-size="8.2" text-anchor="middle" fill="#222222">15</text>
<path d="M680.50 400.3V404.6" stroke="#6a6a6a" stroke-width="1"/>
<text x="680.50" y="413.7" font-size="8.2" text-anchor="middle" fill="#222222">20</text>
<text x="534.2" y="426.4" font-size="9.1" text-anchor="middle" fill="#222222">Cycle number</text>
<text transform="translate(360.6 346.1) rotate(-90)" font-size="9.0" text-anchor="middle" fill="#222222">Performance</text>
<polyline points="389.60,301.94 390.91,302.12 392.22,301.85 393.53,301.88 394.84,301.88 396.15,301.83 397.47,302.20 398.78,302.05 400.09,301.92 401.40,301.96 402.71,302.26 404.02,302.01 405.33,301.88 406.64,302.17 407.95,302.09 409.26,302.26 410.57,301.82 411.89,302.00 413.20,302.18 414.51,302.19 415.82,302.23 417.13,301.79 418.44,301.92 419.75,301.83 421.06,301.87 422.37,302.26 423.68,302.07 424.99,302.24 426.31,301.96 427.62,302.21 428.93,302.00 430.24,301.91 431.55,302.17 432.86,302.25 434.17,301.83 435.48,302.08 436.79,302.09 438.10,301.89 439.41,301.97 440.73,301.86 442.04,301.89 443.35,301.91 444.66,302.09 445.97,302.11 447.28,301.89 448.59,301.80 449.90,301.96 451.21,302.13 452.52,301.89 453.83,301.95 455.15,301.90 456.46,302.19 457.77,302.07 459.08,301.83 460.39,301.85 461.70,302.00 463.01,302.08 464.32,302.12 465.63,301.85 466.94,301.89 468.25,302.15 469.57,302.01 470.88,301.95 472.19,301.96 473.50,302.28 474.81,301.97 476.12,302.09 477.43,301.99 478.74,302.02 480.05,302.24 481.36,302.31 482.67,302.00 483.99,301.91 485.30,302.18 486.61,301.92 487.92,301.82 489.23,302.27 490.54,302.03 491.85,302.23 493.16,302.02 494.47,302.26 495.78,302.05 497.09,301.91 498.41,301.83 499.72,302.10 501.03,302.15 502.34,302.28 503.65,301.87 504.96,302.14 506.27,302.02 507.58,302.08 508.89,301.91 510.20,301.98 511.51,302.10 512.83,302.30 514.14,301.89 515.45,302.08 516.76,302.24 518.07,302.32 519.38,301.94 520.69,301.90 522.00,302.31 523.31,302.33 524.62,302.09 525.93,301.87 527.25,302.31 528.56,302.04 529.87,302.30 531.18,302.16 532.49,302.26 533.80,301.93" fill="none" stroke="#ea2f37" stroke-width="2.6" stroke-linecap="round" stroke-linejoin="round"/>
<polyline points="536.20,303.74 537.51,303.46 538.83,303.55 540.14,303.77 541.45,303.76 542.76,303.43 544.08,303.45 545.39,303.54 546.70,303.59 548.01,303.53 549.33,303.39 550.64,303.45 551.95,303.69 553.27,303.78 554.58,303.35 555.89,303.60 557.20,303.70 558.52,303.34 559.83,303.74 561.14,303.37 562.45,303.61 563.77,303.59 565.08,303.62 566.39,303.46 567.71,303.52 569.02,303.60 570.33,303.52 571.64,303.63 572.96,303.52 574.27,303.52 575.58,303.31 576.89,303.60 578.21,303.54 579.52,303.41 580.83,303.67 582.15,303.68 583.46,303.51 584.77,303.37 586.08,303.52 587.40,303.33 588.71,303.34 590.02,303.49 591.33,303.32 592.65,303.49 593.96,303.53 595.27,303.29 596.59,303.58 597.90,303.31 599.21,303.63 600.52,303.65 601.84,303.51 603.15,303.28 604.46,303.51 605.77,303.44 607.09,303.73 608.40,303.32 609.71,303.68 611.03,303.74 612.34,303.61 613.65,303.65 614.96,303.34 616.28,303.73 617.59,303.48 618.90,303.71 620.21,303.69 621.53,303.31 622.84,303.62 624.15,303.69 625.47,303.26 626.78,303.40 628.09,303.60 629.40,303.30 630.72,303.67 632.03,303.35 633.34,303.62 634.65,303.29 635.97,303.46 637.28,303.67 638.59,303.31 639.91,303.34 641.22,303.46 642.53,303.36 643.84,303.22 645.16,303.29 646.47,303.28 647.78,303.66 649.09,303.53 650.41,303.64 651.72,303.27 653.03,303.58 654.35,303.24 655.66,303.45 656.97,303.50 658.28,303.36 659.60,303.62 660.91,303.45 662.22,303.47 663.53,303.61 664.85,303.22 666.16,303.67 667.47,303.48 668.79,303.36 670.10,303.56 671.41,303.30 672.72,303.66 674.04,303.45 675.35,303.34 676.66,303.54 677.97,303.37 679.29,303.24 680.60,303.52" fill="none" stroke="#ea2f37" stroke-width="2.6" stroke-linecap="round" stroke-linejoin="round"/>
<polyline points="389.60,373.73 390.80,374.02 392.00,373.51 393.21,373.58 394.41,373.61 395.61,373.21 396.81,373.20 398.01,372.98 399.21,372.79 400.42,372.81 401.62,372.88 402.82,373.15 404.02,373.04 405.22,373.09 406.42,373.31 407.62,372.85 408.83,372.91 410.03,373.16 411.23,372.78 412.43,372.77 413.63,372.97 414.84,372.82 416.04,372.97 417.24,372.89 418.44,373.10 419.64,373.10 420.84,372.87 422.05,373.12 423.25,373.03 424.45,372.82 425.65,373.30 426.85,372.88 428.05,372.82 429.25,372.79 430.46,373.11 431.66,373.25 432.86,373.19 434.06,372.96 435.26,372.87 436.47,372.72 437.67,373.10 438.87,373.04 440.07,372.91 441.27,373.09 442.47,372.97 443.68,373.26 444.88,373.13 446.08,372.84 447.28,373.23 448.48,372.71 449.68,373.00 450.88,372.92 452.09,372.82 453.29,372.71 454.49,373.14 455.69,372.68 456.89,373.00 458.09,373.23 459.30,372.75 460.50,372.78 461.70,373.02 462.90,372.96 464.10,373.04 465.30,373.14 466.51,372.75 467.71,372.83 468.91,372.82 470.11,372.67 471.31,373.17 472.51,373.10 473.72,373.06 474.92,372.63 476.12,373.13 477.32,373.07 478.52,372.90 479.72,373.06 480.93,372.89 482.13,372.75 483.33,372.67 484.53,372.75 485.73,372.63 486.94,372.80 488.14,373.05 489.34,373.01 490.54,373.10 491.74,373.02 492.94,372.75 494.14,372.92 495.35,372.85 496.55,373.05 497.75,372.89 498.95,372.74 500.15,372.96 501.35,373.15 502.56,372.70 503.76,373.09 504.96,372.57 506.16,372.72 507.36,372.70 508.56,373.00 509.77,373.12 510.97,373.00 512.17,372.74 513.37,373.07 514.57,372.74 515.77,372.68 516.98,373.08 518.18,372.91 519.38,372.95 520.58,372.93 521.78,373.11 522.98,372.81 524.19,373.02 525.39,372.94 526.59,373.03 527.79,372.78 528.99,372.95 530.19,372.85 531.40,372.69 532.60,372.63 533.80,372.87" fill="none" stroke="#474747" stroke-width="2.8" stroke-linecap="round" stroke-linejoin="round"/>
<polyline points="536.60,354.20 537.80,354.80 539.00,354.28 540.20,354.21 541.39,354.28 542.59,354.87 543.79,354.47 544.99,354.34 546.19,354.28 547.38,354.30 548.58,354.77 549.78,354.74 550.98,354.80 552.18,354.84 553.38,354.39 554.58,354.77 555.77,354.62 556.97,354.95 558.17,354.97 559.37,355.03 560.57,354.47 561.76,355.04 562.96,355.09 564.16,355.13 565.36,354.55 566.56,354.64 567.76,354.58 568.96,354.54 570.15,355.13 571.35,355.11 572.55,355.00 573.75,355.15 574.95,355.03 576.14,354.80 577.34,354.68 578.54,354.70 579.74,355.17 580.94,354.80 582.14,354.89 583.34,354.98 584.53,354.71 585.73,354.89 586.93,354.92 588.13,355.24 589.33,355.01 590.52,354.99 591.72,355.45 592.92,355.14 594.12,355.40 595.32,355.25 596.52,354.85 597.72,355.14 598.91,355.18 600.11,355.45 601.31,355.18 602.51,355.46 603.71,355.37 604.90,355.18 606.10,355.66 607.30,355.15 608.50,355.70 609.70,355.27 610.90,355.19 612.10,355.36 613.29,355.78 614.49,355.96 615.69,355.31 616.89,355.68 618.09,355.71 619.28,355.96 620.48,355.56 621.68,355.81 622.88,355.74 624.08,356.11 625.28,355.74 626.48,356.25 627.67,355.82 628.87,355.80 630.07,356.17 631.27,356.06 632.47,355.82 633.66,356.22 634.86,355.86 636.06,356.39 637.26,356.36 638.46,356.45 639.66,356.37 640.86,356.21 642.05,356.27 643.25,356.30 644.45,356.68 645.65,356.15 646.85,356.74 648.04,356.17 649.24,356.32 650.44,356.39 651.64,356.87 652.84,356.62 654.04,356.57 655.24,356.95 656.43,356.52 657.63,356.71 658.83,356.79 660.03,356.98 661.23,357.00 662.42,356.96 663.62,356.78 664.82,356.79 666.02,356.70 667.22,357.22 668.42,357.12 669.62,357.20 670.81,356.83 672.01,357.05 673.21,357.31 674.41,357.21 675.61,356.92 676.80,357.18 678.00,357.51 679.20,357.09 680.40,357.08" fill="none" stroke="#474747" stroke-width="2.8" stroke-linecap="round" stroke-linejoin="round"/>
<circle cx="400.4" cy="315.4" r="1.4" fill="#ea2f37"/>
<circle cx="400.4" cy="327.6" r="1.4" fill="#474747"/>
<text x="406.4" y="318.4" font-size="8.6" fill="#222222"><tspan font-style="italic">S</tspan>(C<tspan baseline-shift="-2.75" font-size="6.02">3</tspan>H<tspan baseline-shift="-2.75" font-size="6.02">6</tspan>)</text>
<text x="406.4" y="330.6" font-size="8.6" fill="#222222"><tspan font-style="italic">X</tspan>(C<tspan baseline-shift="-2.75" font-size="6.02">3</tspan>H<tspan baseline-shift="-2.75" font-size="6.02">8</tspan>)</text>
<text x="465.4" y="365.9" font-size="9.0" text-anchor="middle" fill="#222222" textLength="116.5">Ten PDH/regeneration cycles</text>
<text x="465.5" y="384.7" font-size="8.4" text-anchor="middle" fill="#222222" textLength="104"><tspan font-style="italic">T</tspan> = 500 °C, WHSV = 4.7 h<tspan baseline-shift="3.2" font-size="5.9">−1</tspan></text>
<text x="608.8" y="346" font-size="9.0" text-anchor="middle" fill="#222222" textLength="116.4">Ten PDH/regeneration cycles</text>
<text x="609.6" y="368.4" font-size="8.4" text-anchor="middle" fill="#222222" textLength="105.5"><tspan font-style="italic">T</tspan> = 550 °C, WHSV = 9.4 h<tspan baseline-shift="3.2" font-size="5.9">−1</tspan></text>
</svg>
</body></html>
